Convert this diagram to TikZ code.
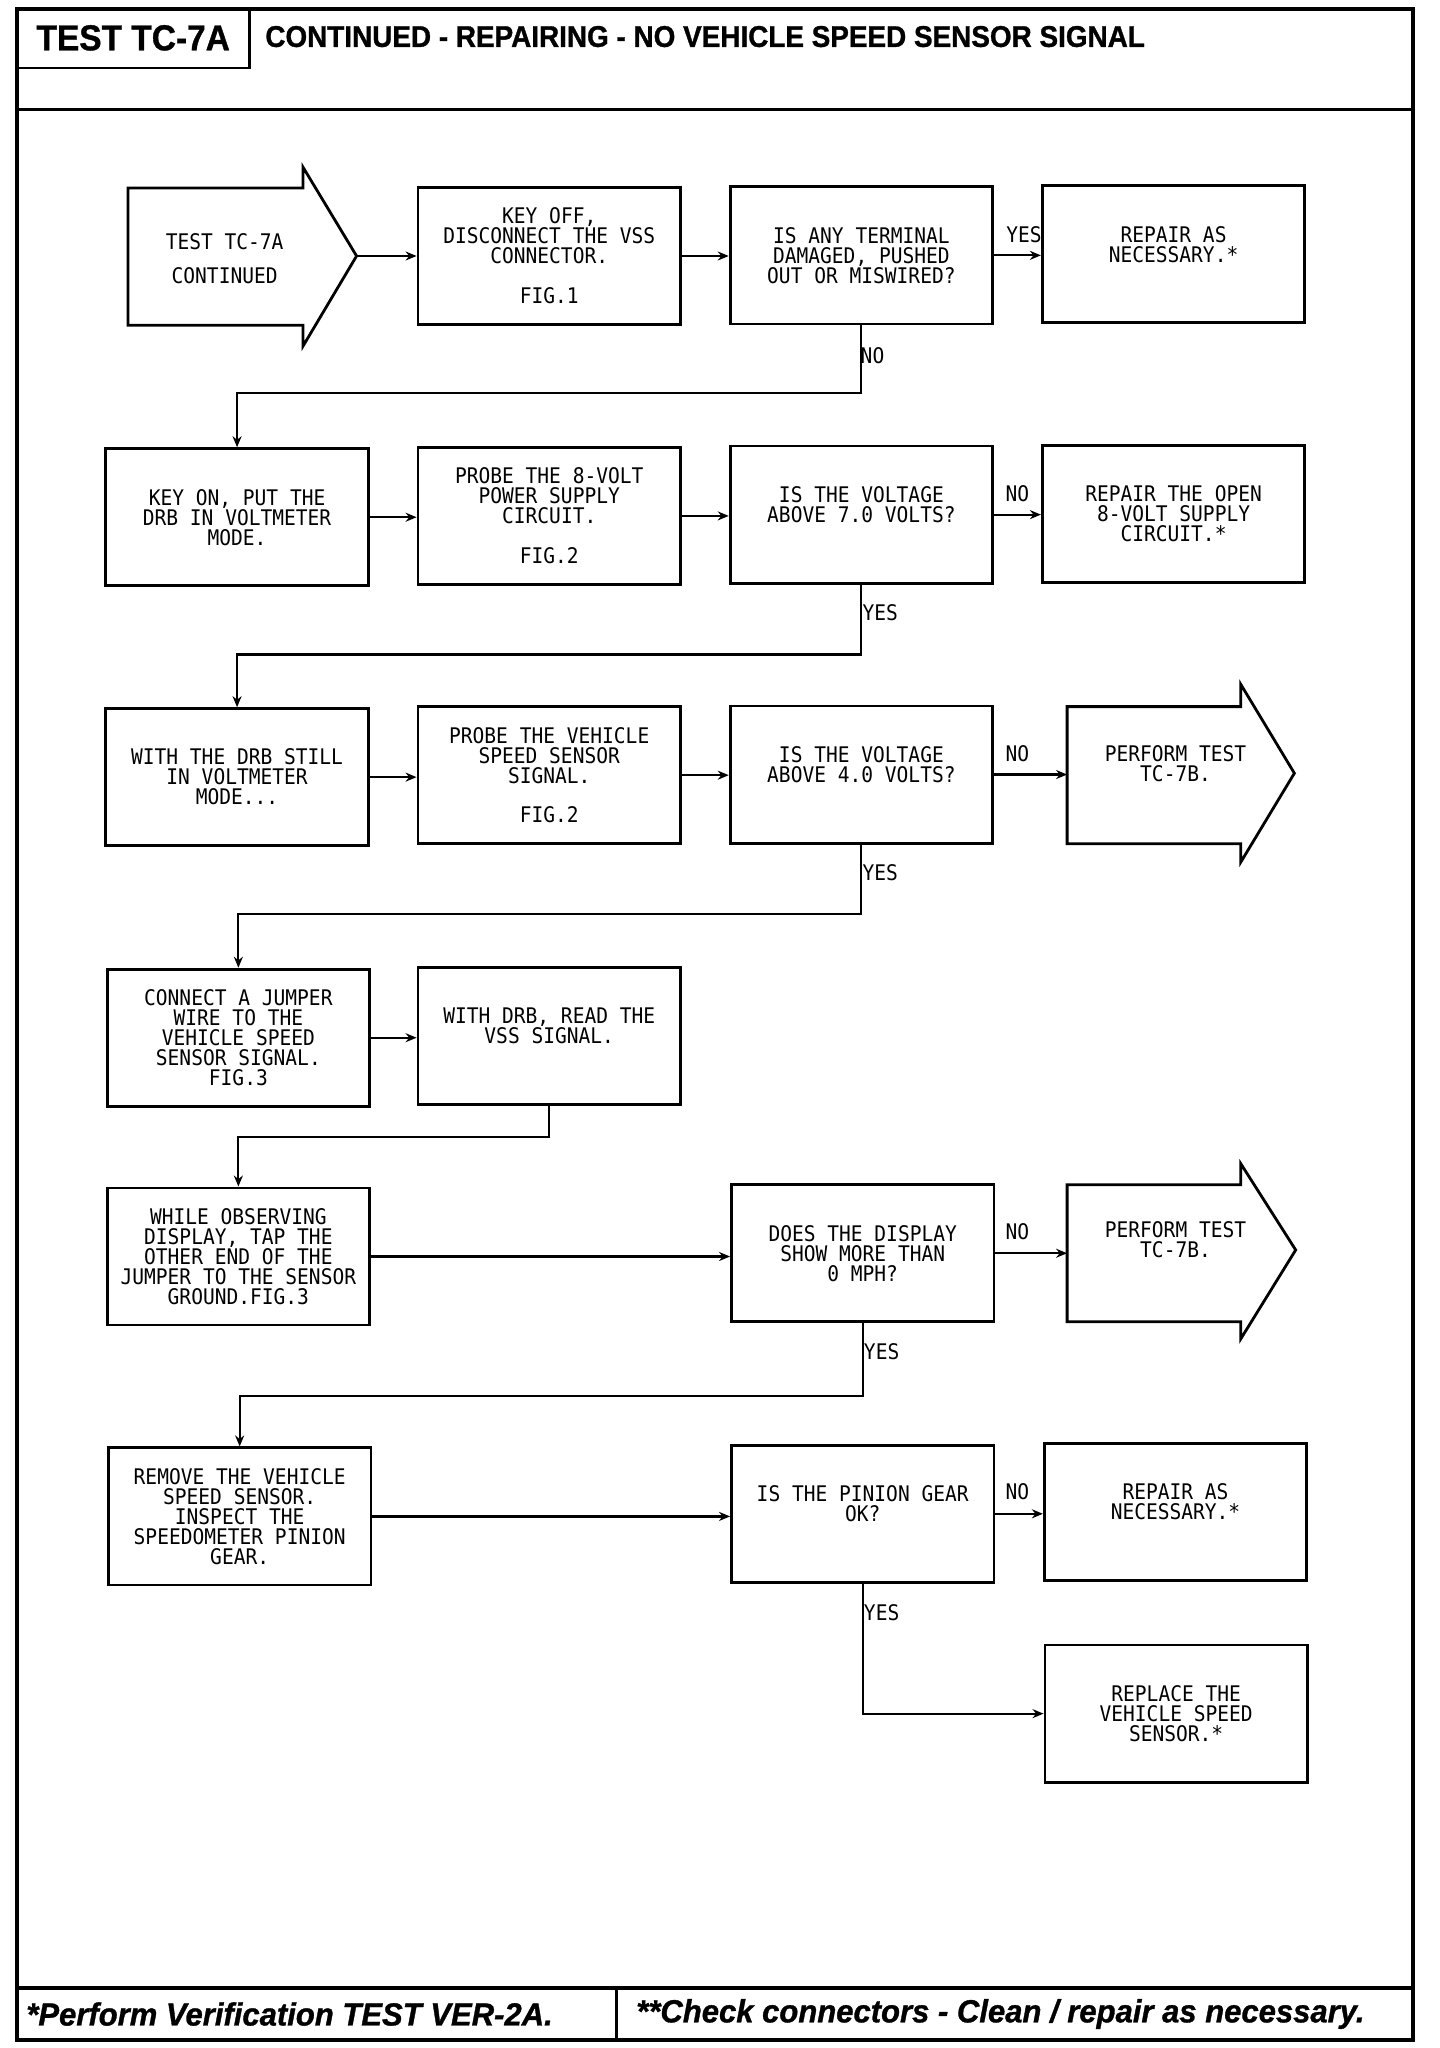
\documentclass[tikz,border=0pt]{standalone}
\usepackage{fontspec}
\usetikzlibrary{arrows.meta}
\newfontfamily\plotfont[FakeStretch=0.91]{DejaVu Sans Mono}
\newfontfamily\headfont[FakeStretch=0.93,FakeBold=1]{Liberation Sans}
\newfontfamily\footfont[FakeStretch=0.97,FakeBold=1]{Liberation Sans}
\begin{document}
\begin{tikzpicture}[x=1.3067pt,y=-1.3067pt,
  frame/.style={line width=3.5pt},
  thinframe/.style={line width=2.5pt},
  box/.style={draw,line width=2.8pt,minimum width=262.6pt,minimum height=137.2pt,align=center,inner sep=0pt,
    font=\plotfont\fontsize{21.5}{20}\selectfont},
  txt/.style={align=center,inner sep=0pt,font=\plotfont\fontsize{21.5}{20}\selectfont},
  outline/.style={draw,line width=2.8pt,line join=miter},
  conn/.style={line width=2.2pt,-{Stealth[length=11pt,width=9pt]}},
  lbl/.style={inner sep=0pt,font=\plotfont\fontsize{21.5}{20}\selectfont}]
\useasboundingbox (0,0) rectangle (1102,1568);
\fill[white] (0,0) rectangle (1102,1568);
% frame
\draw[frame] (13,7) rectangle (1082,1562);
\draw[frame] (13,84) -- (1082,84);
\draw[frame] (13,1522) -- (1082,1522);
\draw[thinframe] (472,1522) -- (472,1562);
\draw[thinframe] (191,7) -- (191,52) -- (13,52);
\node[inner sep=0pt] (hA) at (102,29) {\headfont\bfseries\fontsize{36}{36}\selectfont TEST TC-7A};
\node[inner sep=0pt,anchor=west] (hB) at (203,28) {\headfont\bfseries\fontsize{30}{30}\selectfont CONTINUED - REPAIRING - NO VEHICLE SPEED SENSOR SIGNAL};
\node[inner sep=0pt,anchor=west] (f1) at (20,1542) {\footfont\bfseries\itshape\fontsize{32}{32}\selectfont *Perform Verification TEST VER-2A.};
\node[inner sep=0pt,anchor=west] (f2) at (487,1542) {\footfont\bfseries\itshape\fontsize{32}{32}\selectfont **Check connectors - Clean / repair as necessary.};
% row 1
\draw[outline] (98,144) -- (232,144) -- (232,128) -- (273,196) -- (232,265) -- (232,249) -- (98,249) -- cycle;
\coordinate (s0tip) at (273,196);
\node[txt] (s0) at (172,198) {TEST TC-7A\\[14pt]CONTINUED};
\node[box] (b1) at (420.5,196) {KEY OFF,\\DISCONNECT THE VSS\\CONNECTOR.\\[20pt]FIG.1};
\node[box] (q1) at (659.5,195.5) {IS ANY TERMINAL\\DAMAGED, PUSHED\\OUT OR MISWIRED?};
\node[box] (r1) at (898.5,194.5) {REPAIR AS\\NECESSARY.*\\~};
% row 2
\node[box] (a2) at (181.5,396) {KEY ON, PUT THE\\DRB IN VOLTMETER\\MODE.};
\node[box] (b2) at (420.5,395) {PROBE THE 8-VOLT\\POWER SUPPLY\\CIRCUIT.\\[20pt]FIG.2};
\node[box] (q2) at (659.5,394) {IS THE VOLTAGE\\ABOVE 7.0 VOLTS?\\~};
\node[box] (r2) at (898.5,393.5) {REPAIR THE OPEN\\8-VOLT SUPPLY\\CIRCUIT.*};
% row 3
\node[box] (a3) at (181.5,595) {WITH THE DRB STILL\\IN VOLTMETER\\MODE...};
\node[box] (b3) at (420.5,593.5) {PROBE THE VEHICLE\\SPEED SENSOR\\SIGNAL.\\[20pt]FIG.2};
\node[box] (q3) at (659.5,593) {IS THE VOLTAGE\\ABOVE 4.0 VOLTS?\\~};
\draw[outline] (817,541) -- (950,541) -- (950,524) -- (991,592) -- (950,660) -- (950,646) -- (817,646) -- cycle;
\coordinate (p3in) at (817,593);
\node[txt] (p3) at (900,592) {PERFORM TEST\\TC-7B.\\~};
% row 4
\node[box] (a4) at (182.5,794.5) {CONNECT A JUMPER\\WIRE TO THE\\VEHICLE SPEED\\SENSOR SIGNAL.\\FIG.3};
\node[box] (b4) at (420.5,793) {WITH DRB, READ THE\\VSS SIGNAL.\\~};
% row 5
\node[box] (a5) at (182.5,962) {WHILE OBSERVING\\DISPLAY, TAP THE\\OTHER END OF THE\\JUMPER TO THE SENSOR\\GROUND.FIG.3};
\node[box] (q5) at (660.5,959.5) {DOES THE DISPLAY\\SHOW MORE THAN\\0 MPH?};
\draw[outline] (817,907) -- (950,907) -- (950,891) -- (992,957) -- (950,1025) -- (950,1012) -- (817,1012) -- cycle;
\coordinate (p5in) at (817,958);
\node[txt] (p5) at (900,957) {PERFORM TEST\\TC-7B.\\~};
% row 6
\node[box] (a6) at (183.5,1161) {REMOVE THE VEHICLE\\SPEED SENSOR.\\INSPECT THE\\SPEEDOMETER PINION\\GEAR.};
\node[box] (q6) at (660.5,1159) {IS THE PINION GEAR\\OK?\\~};
\node[box] (r6) at (900,1157.5) {REPAIR AS\\NECESSARY.*\\~};
\node[box] (rep) at (900.5,1312) {REPLACE THE\\VEHICLE SPEED\\SENSOR.*};
% connectors
\draw[conn] (s0tip) -- (b1.west |- s0tip);
\draw[conn] (b1.east) -- (b1.east -| q1.west);
\draw[conn] (q1.east) -- (q1.east -| r1.west);
\draw[conn] (q1.south) -- ++(0,52) -| (a2.north);
\draw[conn] (a2.east) -- (a2.east -| b2.west);
\draw[conn] (b2.east) -- (b2.east -| q2.west);
\draw[conn] (q2.east) -- (q2.east -| r2.west);
\draw[conn] (q2.south) -- ++(0,53.5) -| (a3.north);
\draw[conn] (a3.east) -- (a3.east -| b3.west);
\draw[conn] (b3.east) -- (b3.east -| q3.west);
\draw[conn] (q3.east) -- (q3.east -| p3in);
\draw[conn] (q3.south) -- ++(0,53.5) -| (a4.north);
\draw[conn] (a4.east) -- (a4.east -| b4.west);
\draw[conn] (b4.south) -- ++(0,24) -| (a5.north);
\draw[conn] (a5.east) -- (a5.east -| q5.west);
\draw[conn] (q5.east) -- (q5.east -| p5in);
\draw[conn] (q5.south) -- ++(0,56) -| (a6.north);
\draw[conn] (a6.east) -- (a6.east -| q6.west);
\draw[conn] (q6.east) -- (q6.east -| r6.west);
\draw[conn] (q6.south) |- (rep.west);
% labels
\node[lbl] (l1) at (784,180) {YES};
\node[lbl] (l2) at (668,272) {NO};
\node[lbl] (l3) at (779,378) {NO};
\node[lbl] (l4) at (674,469) {YES};
\node[lbl] (l5) at (779,577) {NO};
\node[lbl] (l6) at (674,668) {YES};
\node[lbl] (l7) at (779,943) {NO};
\node[lbl] (l8) at (675,1035) {YES};
\node[lbl] (l9) at (779,1142) {NO};
\node[lbl] (l10) at (675,1235) {YES};
\end{tikzpicture}
\end{document}
